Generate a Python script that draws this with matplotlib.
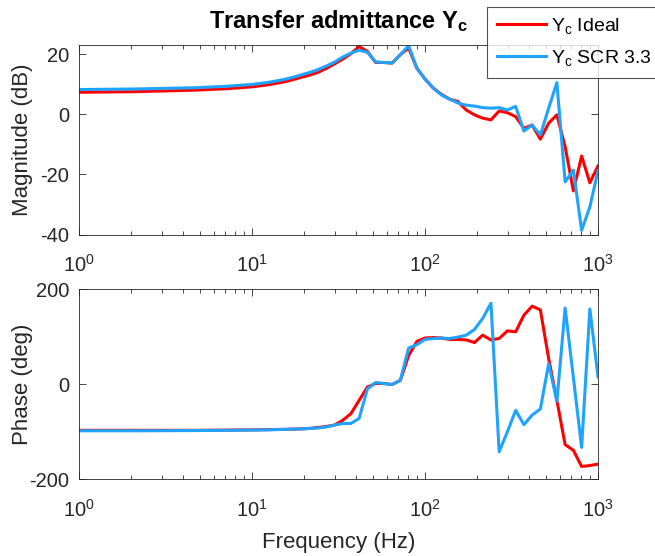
import numpy as np
import matplotlib
matplotlib.use('Agg')
import matplotlib.pyplot as plt
from matplotlib.ticker import LogLocator, NullFormatter

plt.rcParams['font.family'] = ['Liberation Sans', 'DejaVu Sans']
plt.rcParams['mathtext.fontset'] = 'custom'
plt.rcParams['mathtext.rm'] = 'Liberation Sans'
plt.rcParams['mathtext.it'] = 'Liberation Sans:italic'
plt.rcParams['mathtext.bf'] = 'Liberation Sans:bold'
plt.rcParams['axes.unicode_minus'] = False

# frequency points (Hz)
freq = [1.0, 2.154, 4.642, 7.197, 10.0, 12.45, 15.50, 17.30, 19.31, 21.54,
        24.04, 26.83, 29.94, 33.42, 37.29, 41.62, 46.45, 51.84, 57.85, 64.56,
        72.05, 80.41, 89.74, 100.0, 111.6, 124.5, 139.0, 155.1, 173.1, 193.1,
        215.4, 240.5, 268.3, 299.5, 334.2, 372.9, 416.2, 464.4, 518.3, 578.4,
        645.5, 720.4, 804.0, 897.2, 1000.0]

mag_ideal = [7.3, 7.5, 8.0, 8.5, 9.1, 9.8, 10.8, 11.5, 12.3, 13.0,
             13.9, 15.2, 16.7, 18.3, 20.1, 22.5, 20.9, 17.2, 17.2, 17.0,
             19.8, 22.0, 15.3, 11.7, 8.7, 6.6, 5.0, 4.2, 1.4, -0.2,
             -1.3, -1.9, 1.1, 0.5, -0.8, -4.7, -3.6, -8.3, -3.0, -0.2,
             -10.8, -25.5, -13.9, -22.8, -17.2]

mag_scr = [8.2, 8.4, 8.8, 9.3, 9.9, 10.6, 11.6, 12.3, 13.1, 13.9,
           14.8, 16.0, 17.3, 19.0, 20.3, 21.3, 20.6, 17.4, 17.2, 17.0,
           19.8, 22.8, 15.3, 11.7, 8.7, 6.4, 5.0, 3.7, 3.0, 2.7,
           2.2, 2.0, 2.2, 1.4, 2.6, -5.6, -3.6, -6.9, 2.0, 10.5,
           -22.5, -18.6, -38.6, -30.8, -18.8]

ph_ideal = [-97, -97, -97, -96.5, -96, -95.5, -95, -94.5, -94, -93,
            -91, -89, -86, -76, -62, -34, -6, 1.4, 1.4, -0.7,
            8, 60, 90, 97, 98, 97, 94, 94, 93, 87.5,
            103, 93, 96, 112, 110, 145, 164, 156, 54, -34,
            -127, -139, -173, -171, -168]

ph_scr = [-98, -98, -97.5, -97, -96.5, -96, -95, -94.5, -94, -93,
          -92, -90, -86, -82.6, -82.6, -72, -10, 3.5, 1.4, -0.7,
          8.4, 76, 83, 94, 96, 97, 96, 99, 103, 115,
          138, 170, -142, -100, -55, -85, -65, -52, 43, -36,
          160, 14, -133, 158, 15]

red = '#ff0000'
blue = '#1ea3ff'
dark = '#262626'

fig = plt.figure(figsize=(6.55, 5.56), dpi=100)
ax1 = fig.add_axes([0.1206, 0.5782, 0.7924, 0.3408])
ax2 = fig.add_axes([0.1206, 0.1379, 0.7924, 0.3423])

l1, = ax1.semilogx(freq, mag_ideal, color=red, lw=2.2, label=r'Y$_{\rm c}$ Ideal')
l2, = ax1.semilogx(freq, mag_scr, color=blue, lw=2.2, label=r'Y$_{\rm c}$ SCR 3.3')
ax2.semilogx(freq, ph_ideal, color=red, lw=2.2)
ax2.semilogx(freq, ph_scr, color=blue, lw=2.2)

ax1.set_ylim(-40, 23)
ax1.set_yticks([-40, -20, 0, 20])
ax2.set_ylim(-200, 200)
ax2.set_yticks([-200, 0, 200])

for ax in (ax1, ax2):
    ax.set_xlim(1, 1000)
    ax.xaxis.set_minor_locator(LogLocator(base=10, subs=np.arange(2, 10), numticks=20))
    ax.xaxis.set_minor_formatter(NullFormatter())
    ax.tick_params(which='both', direction='in', top=True, right=True,
                   colors=dark, labelsize=14.5, width=0.6)
    ax.tick_params(which='major', length=5)
    ax.tick_params(which='minor', length=3)
    ax.tick_params(axis='x', which='major', pad=14)
    ax.tick_params(axis='y', which='major', pad=7)
    for s in ax.spines.values():
        s.set_color(dark)
        s.set_linewidth(0.6)
    ax.yaxis.set_label_coords(-0.088, 0.5)

ax1.set_ylabel('Magnitude (dB)', fontsize=16, color=dark)
ax2.set_ylabel('Phase (deg)', fontsize=16, color=dark)
ax2.set_xlabel('Frequency (Hz)', fontsize=16, color=dark, labelpad=8)
ax1.set_title(r'Transfer admittance Y$_{\bf c}$', fontsize=17, fontweight='bold', pad=12)

leg = fig.legend(handles=[l1, l2], loc='upper left', bbox_to_anchor=(487 / 655, 1 - 6.5 / 556),
                 fontsize=14, frameon=True, fancybox=False, handlelength=2.55,
                 borderaxespad=0, borderpad=0.5, labelspacing=0.6, handletextpad=0.25)
leg.get_frame().set_edgecolor(dark)
leg.get_frame().set_linewidth(0.8)

fig.savefig('out.png', dpi=100)
